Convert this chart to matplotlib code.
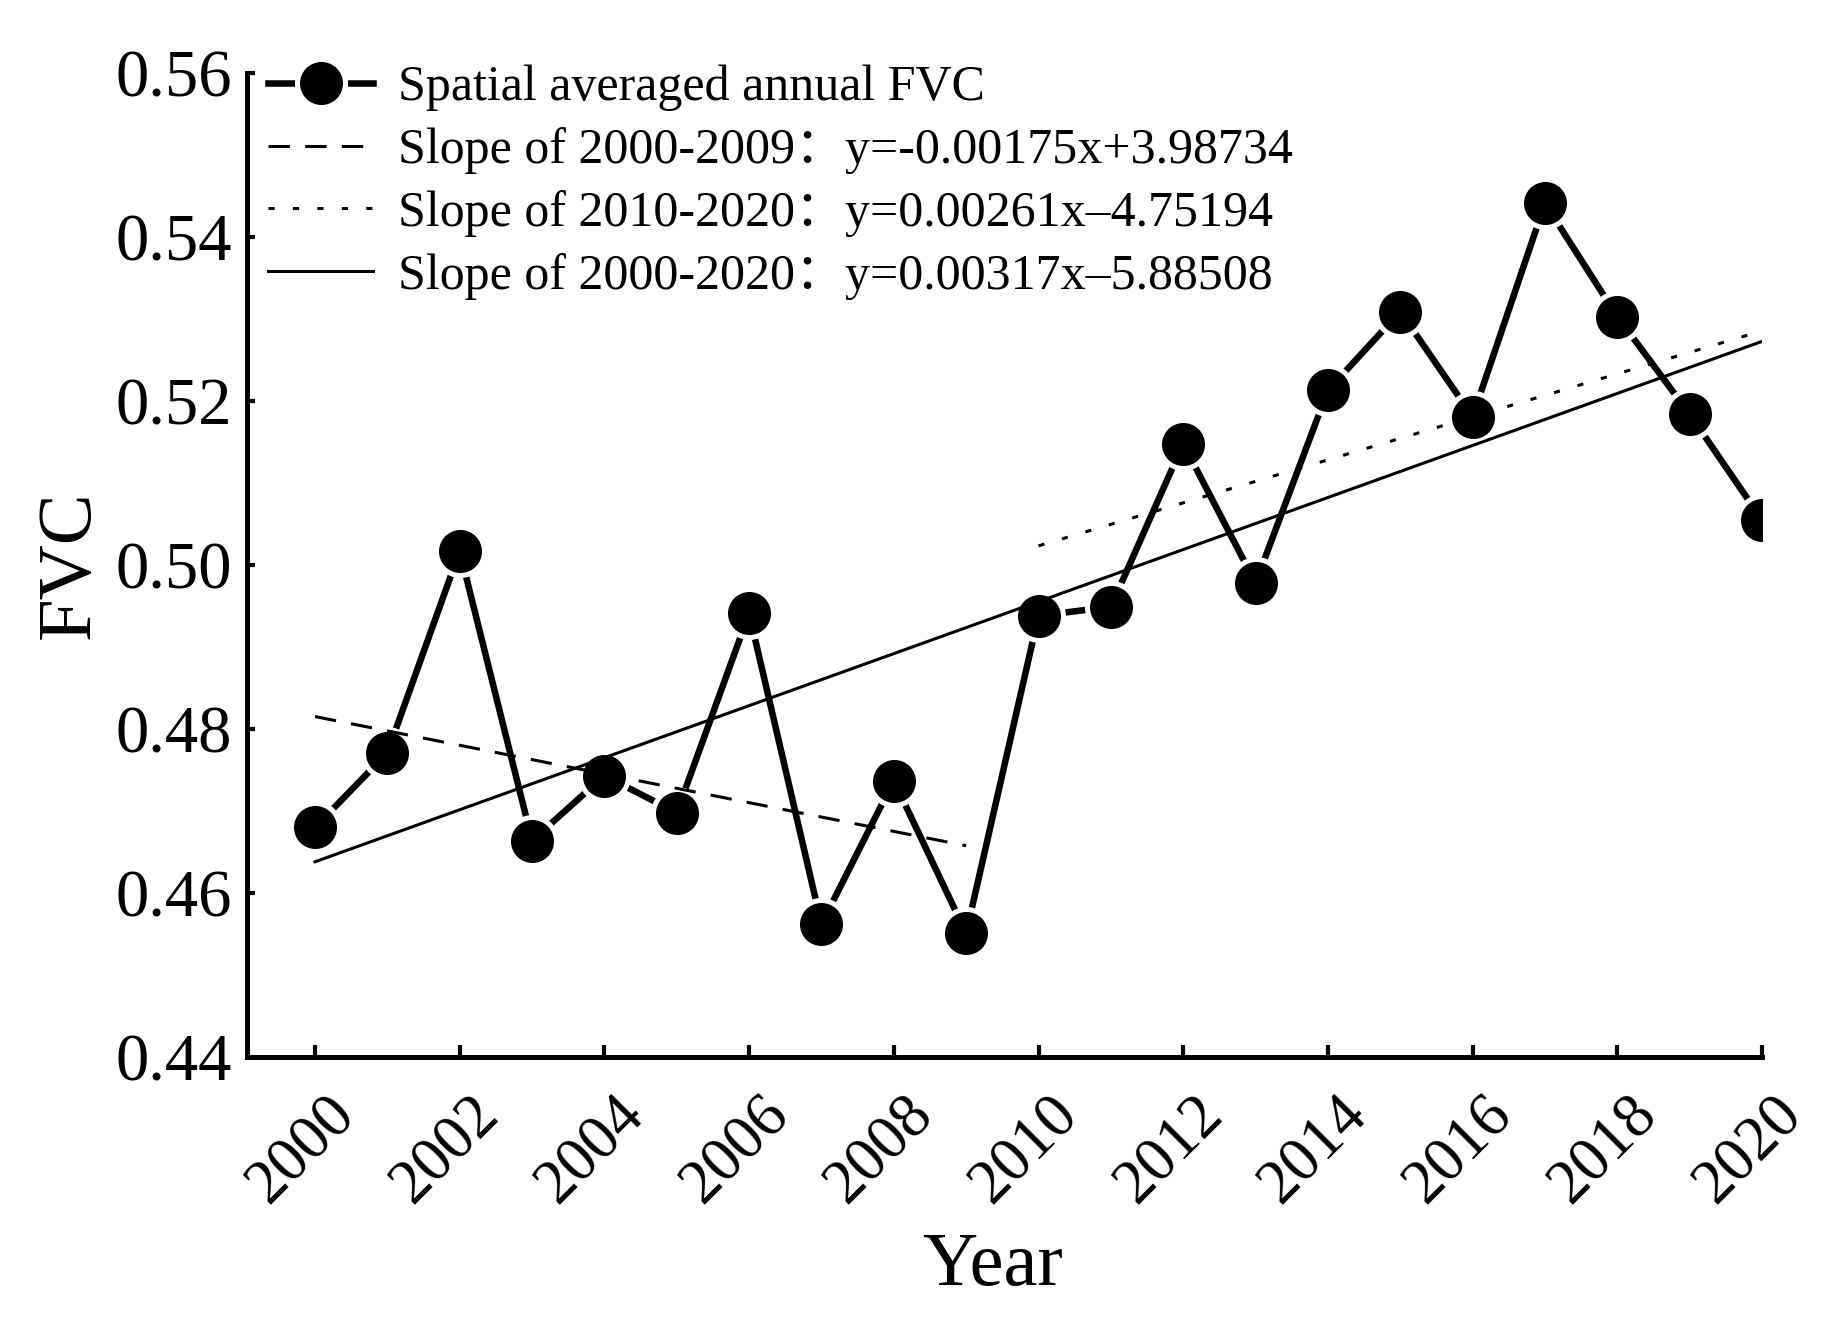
import numpy as np
import matplotlib
matplotlib.use("Agg")
import matplotlib.pyplot as plt
import matplotlib.transforms as mtrans

plt.rcParams['font.family'] = ['Liberation Serif', 'Noto Sans CJK SC']

# annual mean FVC
years = [2000, 2001, 2002, 2003, 2004, 2005, 2006, 2007, 2008, 2009, 2010,
         2011, 2012, 2013, 2014, 2015, 2016, 2017, 2018, 2019, 2020]
fvc = [0.4680, 0.4771, 0.5017, 0.4664, 0.4743, 0.4698, 0.4941, 0.4562,
       0.4737, 0.4551, 0.4938, 0.4949, 0.5148, 0.4978, 0.5213, 0.5309,
       0.5181, 0.5441, 0.5303, 0.5184, 0.5055]

labels = ["Spatial averaged annual FVC",
          "Slope of 2000-2009\uff1ay=-0.00175x+3.98734",
          "Slope of 2010-2020\uff1ay=0.00261x\u20134.75194",
          "Slope of 2000-2020\uff1ay=0.00317x\u20135.88508"]

xticks = [2000, 2002, 2004, 2006, 2008, 2010, 2012, 2014, 2016, 2018, 2020]
yticks = [0.44, 0.46, 0.48, 0.50, 0.52, 0.54, 0.56]
ytick_labels = ["0.44", "0.46", "0.48", "0.50", "0.52", "0.54", "0.56"]

x = np.array(years, dtype=float)
y = np.array(fvc)


def fit(x0, x1):
    # least squares line over a year range
    m = (x >= x0) & (x <= x1)
    k, b = np.polyfit(x[m], y[m], 1)
    xs = np.array([x0, x1], dtype=float)
    return xs, k * xs + b


fig = plt.figure(figsize=(18.4, 13.23), dpi=100)
ax = fig.add_axes([0.13424, 0.20106, 0.82337, 0.74376])

ax.plot(x, y, color='black', lw=4.7, marker='o', ms=34.6,
        markerfacecolor='black', markeredgecolor='white', mew=3.6,
        label=labels[0], zorder=2)

xs, ys = fit(2000, 2009)
ax.plot(xs, ys, color='black', lw=2.2, dashes=(7, 5), label=labels[1], zorder=3)
xs, ys = fit(2010, 2020)
ax.plot(xs, ys, color='black', lw=2.2, dashes=(2, 6), label=labels[2], zorder=3)
xs, ys = fit(2000, 2020)
ax.plot(xs, ys, color='black', lw=2.2, label=labels[3], zorder=3)

ax.set_xlim(1999.06, 2020)
ax.set_ylim(0.44, 0.56)
ax.set_xticks(xticks)
ax.set_xticklabels([str(t) for t in xticks], rotation=45, ha='center')
ax.set_yticks(yticks)
ax.set_yticklabels(ytick_labels)

for s in ['top', 'right']:
    ax.spines[s].set_visible(False)
for s in ['left', 'bottom']:
    ax.spines[s].set_linewidth(3.6)

ax.tick_params(axis='y', direction='in', length=5.8, width=3, labelsize=48, pad=11)
ax.tick_params(axis='x', direction='in', length=8.6, width=3, labelsize=45, pad=20)

shift = mtrans.ScaledTranslation(-0.14, 0, fig.dpi_scale_trans)
for lab in ax.get_xticklabels():
    lab.set_transform(lab.get_transform() + shift)

ax.set_xlabel("Year", fontsize=55, va='baseline')
ax.xaxis.set_label_coords(0.492, -0.2317)
ax.set_ylabel("FVC", fontsize=55, va='baseline', ha='center')
ax.yaxis.set_label_coords(-0.1043, 0.5)

ax.legend(loc='upper left', bbox_to_anchor=(0.0139, 1.0086), frameon=False,
          fontsize=36, borderaxespad=0, borderpad=0, handlelength=2.1,
          handletextpad=0.5, labelspacing=0.32)

fig.savefig("out.png", dpi=100)
